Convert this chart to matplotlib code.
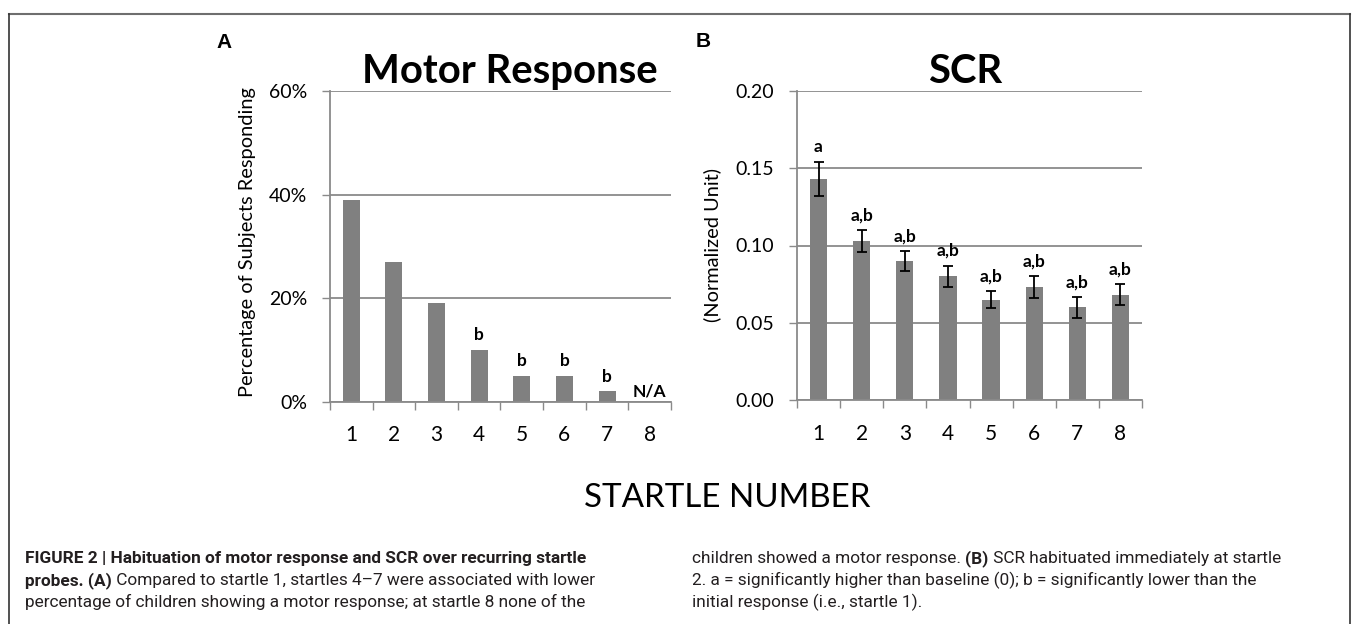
import numpy as np
import matplotlib
matplotlib.use("Agg")
import matplotlib.pyplot as plt
from matplotlib import font_manager
from matplotlib.lines import Line2D

# ---------------- data ----------------
startles = [1, 2, 3, 4, 5, 6, 7, 8]
motor_pct = [39, 27, 19, 10, 5, 5, 2, 0]
motor_labels = ["", "", "", "b", "b", "b", "b", "N/A"]
motor_yticks = [0, 20, 40, 60]
motor_yticklabels = ["0%", "20%", "40%", "60%"]

scr_mean = [0.143, 0.103, 0.090, 0.080, 0.065, 0.073, 0.060, 0.068]
scr_err = [0.011, 0.007, 0.0065, 0.007, 0.0055, 0.0072, 0.0068, 0.0068]
scr_labels = ["a", "a,b", "a,b", "a,b", "a,b", "a,b", "a,b", "a,b"]
scr_yticks = [0.00, 0.05, 0.10, 0.15, 0.20]
scr_yticklabels = ["0.00", "0.05", "0.10", "0.15", "0.20"]

title_a = "Motor Response"
title_b = "SCR"
ylabel_a = "Percentage of Subjects Responding"
ylabel_b = "(Normalized Unit)"
xlabel = "STARTLE NUMBER"

caption_left = [
    [("FIGURE 2 | Habituation of motor response and SCR over recurring startle", "bold")],
    [("probes. (A)", "bold"), (" Compared to startle 1, startles 4\u20137 were associated with lower", "normal")],
    [("percentage of children showing a motor response; at startle 8 none of the", "normal")],
]
caption_right = [
    [("children showed a motor response. ", "normal"), ("(B)", "bold"), (" SCR habituated immediately at startle", "normal")],
    [("2. a = significantly higher than baseline (0); b = significantly lower than the", "normal")],
    [("initial response (i.e., startle 1).", "normal")],
]

# ---------------- setup ----------------
W, H = 1352, 624
fig = plt.figure(figsize=(W / 100, H / 100), dpi=100)
fig.patch.set_facecolor("white")
renderer = fig.canvas.get_renderer()


def has_font(name):
    try:
        font_manager.findfont(font_manager.FontProperties(family=name), fallback_to_default=False)
        return True
    except Exception:
        return False


CHART_FONT = "Lato" if has_font("Lato") else "DejaVu Sans"
if has_font("Liberation Sans Narrow"):
    CAP_FONT, CAP_WIDTH = "Liberation Sans Narrow", 470
else:
    CAP_FONT, CAP_WIDTH = "Roboto", 560
LETTER_FONT = "Liberation Sans" if has_font("Liberation Sans") else "DejaVu Sans"


def fx(x):
    return x / W


def fy(y):
    return 1 - y / H


def fit_size(text, target_px, **kw):
    t = fig.text(0, 0, text, fontsize=10, **kw)
    w = t.get_window_extent(renderer).width
    t.remove()
    return 10 * target_px / w


GRID = "#8a8a8a"
BAR = "#808080"


def style_axes(ax, ylim, yticks, yticklabels):
    ax.set_xlim(0.5, 8.5)
    ax.set_ylim(*ylim)
    ax.set_axisbelow(True)
    for s in ["top", "right"]:
        ax.spines[s].set_visible(False)
    for s in ["left", "bottom"]:
        ax.spines[s].set_color(GRID)
        ax.spines[s].set_linewidth(1.3)
    ax.set_yticks(yticks)
    ax.set_yticklabels(yticklabels, fontfamily=CHART_FONT, fontsize=14)
    ax.tick_params(axis="y", direction="out", length=5.5, width=1.0, color=GRID, pad=11)
    ax.yaxis.grid(True, color=GRID, linewidth=1.3)
    ax.set_xticks(np.arange(0.5, 9.0, 1.0))
    ax.set_xticklabels([])
    ax.tick_params(axis="x", which="major", direction="out", length=6, width=1.0, color=GRID)
    ax.set_xticks(startles, minor=True)
    ax.set_xticklabels([str(s) for s in startles], minor=True, fontfamily=CHART_FONT, fontsize=15)
    ax.tick_params(axis="x", which="minor", length=0, pad=17)


# ---------------- panel A ----------------
axA = fig.add_axes([fx(330), fy(401.7), fx(671) - fx(330), fy(91) - fy(401.7)])
axA.bar(startles, motor_pct, width=0.4, color=BAR, zorder=2)
style_axes(axA, (0, 60), motor_yticks, motor_yticklabels)
for x, v, lab in zip(startles, motor_pct, motor_labels):
    if lab:
        off = 4 if lab == "N/A" else 7
        axA.annotate(lab, (x, v), xytext=(0, off), textcoords="offset points",
                     ha="center", va="baseline", fontweight="bold",
                     fontfamily=CHART_FONT, fontsize=12.5)

# ---------------- panel B ----------------
axB = fig.add_axes([fx(797), fy(400), fx(1142) - fx(797), fy(91) - fy(400)])
axB.bar(startles, scr_mean, width=0.4, color=BAR, zorder=2)
axB.errorbar(startles, scr_mean, yerr=scr_err, fmt="none", ecolor="black",
             elinewidth=1.3, capsize=3.8, capthick=1.3, zorder=3)
style_axes(axB, (0, 0.20), scr_yticks, scr_yticklabels)
for x, v, e, lab in zip(startles, scr_mean, scr_err, scr_labels):
    axB.annotate(lab, (x, v + e), xytext=(0, 7), textcoords="offset points",
                 ha="center", va="baseline", fontweight="bold",
                 fontfamily=CHART_FONT, fontsize=12.5)

# ---------------- titles and labels ----------------
ts = fit_size(title_a, 296, fontfamily=CHART_FONT, fontweight="bold")
fig.text(fx(510), fy(83), title_a, ha="center", va="baseline", fontsize=ts,
         fontweight="bold", fontfamily=CHART_FONT)
fig.text(fx(965), fy(83), title_b, ha="center", va="baseline", fontsize=ts,
         fontweight="bold", fontfamily=CHART_FONT)

ls = fit_size(ylabel_a, 310, fontfamily=CHART_FONT)
fig.text(fx(248), fy(242), ylabel_a, rotation=90, ha="center", va="center",
         fontsize=ls, fontfamily=CHART_FONT)
fig.text(fx(712), fy(245), ylabel_b, rotation=90, ha="center", va="center",
         fontsize=ls, fontfamily=CHART_FONT)

xs = fit_size(xlabel, 285, fontfamily=CHART_FONT)
fig.text(fx(727), fy(507), xlabel, ha="center", va="baseline", fontsize=xs,
         fontfamily=CHART_FONT)

fig.text(fx(224), fy(42.5), "A", ha="center", va="center", fontsize=15,
         fontweight="bold", fontfamily=LETTER_FONT)
fig.text(fx(703), fy(41.5), "B", ha="center", va="center", fontsize=15,
         fontweight="bold", fontfamily=LETTER_FONT)

# ---------------- caption ----------------
cs = fit_size(caption_left[0][0][0], CAP_WIDTH, fontfamily=CAP_FONT, fontweight="bold")
CAP_COLOR = "#231f20"


def draw_lines(lines, x0, baselines):
    for segs, yb in zip(lines, baselines):
        x = x0
        for txt, wt in segs:
            t = fig.text(fx(x), fy(yb), txt, ha="left", va="baseline", fontsize=cs,
                         fontweight=wt, fontfamily=CAP_FONT, color=CAP_COLOR)
            x += t.get_window_extent(renderer).width


draw_lines(caption_left, 25, [563, 585, 607])
draw_lines(caption_right, 692, [563, 585, 607])

# ---------------- frame ----------------
fc = "#6e6e6e"
fig.add_artist(Line2D([fx(9), fx(1350)], [fy(14), fy(14)], color=fc, lw=1.5))
fig.add_artist(Line2D([fx(9), fx(9)], [fy(14), fy(624)], color="#333333", lw=1.2))
fig.add_artist(Line2D([fx(1350), fx(1350)], [fy(14), fy(624)], color="#333333", lw=1.2))

fig.savefig("out.png", dpi=100)
